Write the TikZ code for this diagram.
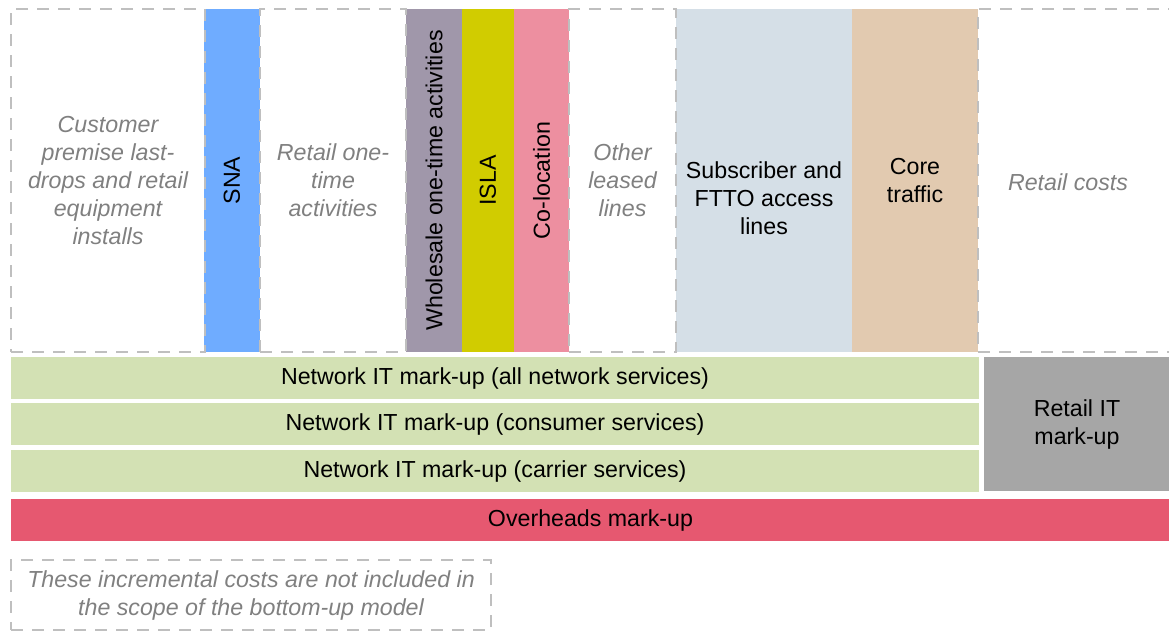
\documentclass[tikz,border=0pt]{standalone}
\usepackage{fontspec}
\setmainfont{Liberation Sans}

\definecolor{dashgrey}{RGB}{191,191,191}
\definecolor{txtgrey}{RGB}{128,128,128}
\definecolor{snablue}{RGB}{111,172,255}
\definecolor{wholegrey}{RGB}{160,151,170}
\definecolor{islayellow}{RGB}{209,204,0}
\definecolor{colocpink}{RGB}{237,143,160}
\definecolor{subsblue}{RGB}{213,223,231}
\definecolor{coretan}{RGB}{226,202,176}
\definecolor{netgreen}{RGB}{211,225,180}
\definecolor{retitgrey}{RGB}{166,166,166}
\definecolor{ovhred}{RGB}{230,88,112}

\tikzset{
  boxfont/.style={font=\fontsize{23.2}{28}\selectfont},
  outbox/.style={draw=dashgrey, line width=2.5pt, dash pattern=on 12pt off 9pt,
    inner sep=0pt, align=center, text=txtgrey, font=\fontsize{23.2}{28}\selectfont\itshape},
  costbox/.style={boxfont, fill=#1, inner sep=0pt, align=center, text=black},
  vlabel/.style={boxfont, rotate=90, inner sep=0pt}
}

\begin{document}
\begin{tikzpicture}[x=1pt,y=-1pt]
\useasboundingbox (0,0) rectangle (1169,637);

% coloured cost blocks (top row)
\node[costbox=snablue, minimum width=56pt, minimum height=343pt] (sna) at (232,180.5) {};
\node[vlabel] (snatext) at (sna.center) {SNA};
\node[costbox=wholegrey, minimum width=56pt, minimum height=343pt] (whole) at (434,180.5) {};
\node[vlabel] (wholetext) at (whole.center) {Wholesale one-time activities};
\node[costbox=islayellow, minimum width=52pt, minimum height=343pt] (isla) at (488,180.5) {};
\node[vlabel] (islatext) at (isla.center) {ISLA};
\node[costbox=colocpink, minimum width=55pt, minimum height=343pt] (coloc) at (541.5,180.5) {};
\node[vlabel] (coloctext) at (coloc.center) {Co-location};
\node[costbox=subsblue, minimum width=176pt, minimum height=343pt] (subs) at (764,180.5) {};
\node[boxfont, align=center] (substext) at (764,198) {Subscriber and\\FTTO access\\lines};
\node[costbox=coretan, minimum width=126pt, minimum height=343pt] (core) at (915,180.5) {Core\\traffic};

% out of scope blocks
\node[outbox, minimum width=194pt, minimum height=343pt] (cust) at (108,180.5)
  {Customer\\premise last-\\drops and retail\\equipment\\installs};
\node[outbox, minimum width=146pt, minimum height=343pt] (retone) at (333,180.5)
  {Retail one-\\time\\activities};
\node[outbox, minimum width=107pt, minimum height=343pt] (other) at (622.5,180.5)
  {Other\\leased\\lines};
\node[outbox, minimum width=192pt, minimum height=343pt] (retail) at (1074,180.5) {};
\node[boxfont, text=txtgrey, font=\fontsize{23.2}{28}\selectfont\itshape] (retailtext) at (1068,182) {Retail costs};

% mark-ups
\node[costbox=netgreen, minimum width=968pt, minimum height=42pt] (netall) at (495,378)
  {Network IT mark-up (all network services)};
\node[costbox=netgreen, minimum width=968pt, minimum height=42pt] (netcons) at (495,424)
  {Network IT mark-up (consumer services)};
\node[costbox=netgreen, minimum width=968pt, minimum height=42pt] (netcarr) at (495,471)
  {Network IT mark-up (carrier services)};
\node[costbox=retitgrey, minimum width=186pt, minimum height=134pt] (retit) at (1077,424)
  {Retail IT\\mark-up};
\node[costbox=ovhred, minimum width=1159pt, minimum height=42pt] (ovh) at (590.5,520)
  {Overheads mark-up};

% legend
\node[outbox, minimum width=480pt, minimum height=70pt] (note) at (251,595)
  {These incremental costs are not included in\\the scope of the bottom-up model};
\end{tikzpicture}
\end{document}
